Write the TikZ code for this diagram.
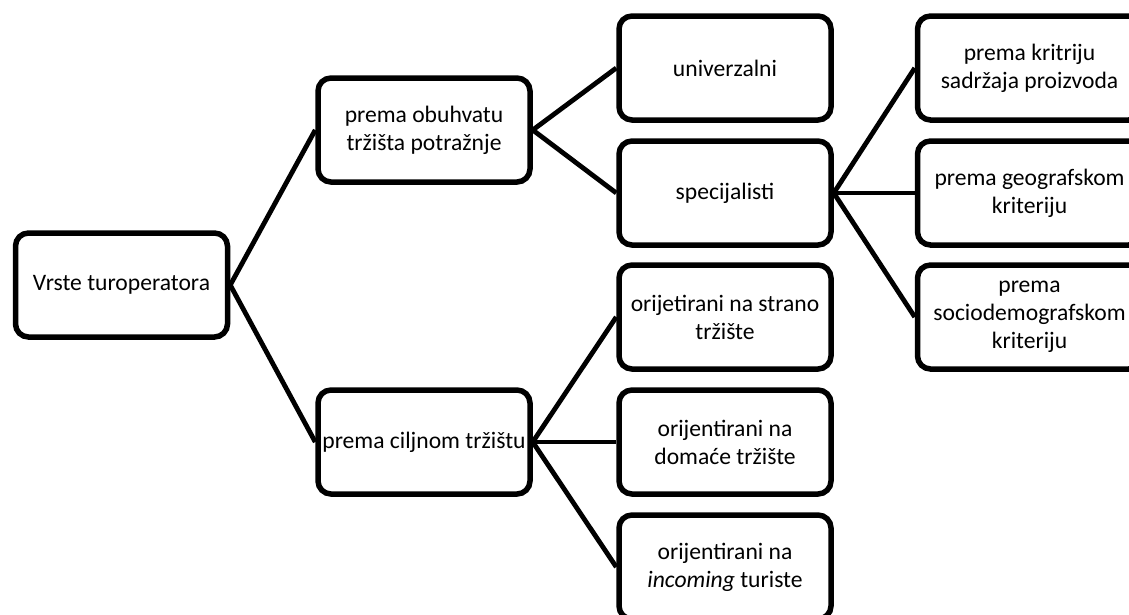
\documentclass[tikz,border=0pt]{standalone}
\usepackage{fontspec}
\setmainfont{Carlito}
\begin{document}
\begin{tikzpicture}[x=1pt,y=-1pt,
  box/.style={draw=black, line width=5.5pt, rounded corners=13pt,
    minimum width=212pt, minimum height=104pt, inner sep=0pt, align=center,
    font=\fontsize{23.6pt}{28pt}\selectfont},
  wbox/.style={box, minimum width=224pt},
  conn/.style={draw=black, line width=4.8pt}]
\useasboundingbox (0,0) rectangle (1129,614);
\begin{scope}
\clip (0,13) rectangle (1129,614);
\node[box] (root) at (121.5,285) {Vrste turoperatora};
\node[box] (L1a) at (424,130) {prema obuhvatu\\tržišta potražnje};
\node[box] (L1b) at (424,442) {prema ciljnom tržištu};
\node[box] (U) at (725,68) {univerzalni};
\node[box] (S) at (725,193) {specijalisti};
\node[box] (O1) at (725,317) {orijetirani na strano\\tržište};
\node[box] (O2) at (725,442) {orijentirani na\\domaće tržište};
\node[box] (O3) at (725,567) {orijentirani na\\\textit{incoming} turiste};
\node[wbox] (K1) at (1029.5,68) {prema kritriju\\sadržaja proizvoda};
\node[wbox] (K2) at (1029.5,193) {prema geografskom\\kriteriju};
\node[wbox] (K3) at (1029.5,317) {prema\\sociodemografskom\\kriteriju};
\draw[conn] (root.east) -- (L1a.west);
\draw[conn] (root.east) -- (L1b.west);
\draw[conn] (L1a.east) -- (U.west);
\draw[conn] (L1a.east) -- (S.west);
\draw[conn] (L1b.east) -- (O1.west);
\draw[conn] (L1b.east) -- (O2.west);
\draw[conn] (L1b.east) -- (O3.west);
\draw[conn] (S.east) -- (K1.west);
\draw[conn] (S.east) -- (K2.west);
\draw[conn] (S.east) -- (K3.west);
\end{scope}
\end{tikzpicture}
\end{document}
